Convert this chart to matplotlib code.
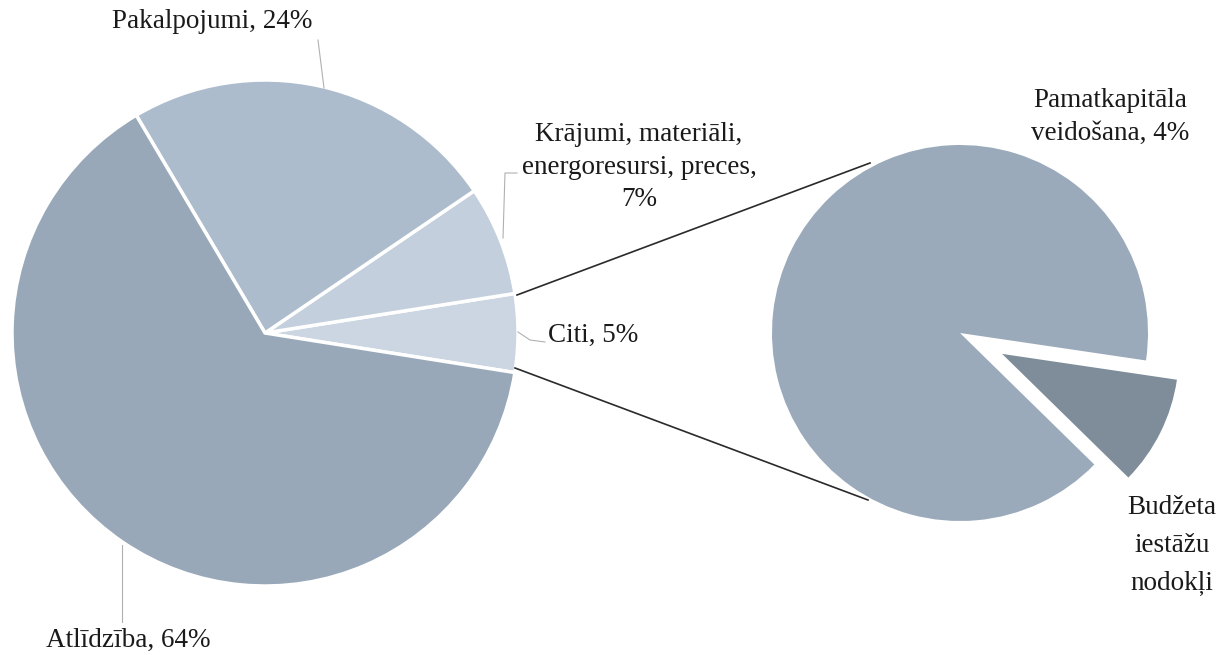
import matplotlib
matplotlib.use("Agg")
import matplotlib.pyplot as plt

# main pie (shares of total spending, %)
main_labels = ["Citi, 5%", "Krājumi, materiāli,\nenergoresursi, preces,\n7%",
               "Pakalpojumi, 24%", "Atlīdzība, 64%"]
main_values = [5, 7, 24, 64]
main_colors = ["#cbd6e2", "#c3cfdc", "#adbccc", "#98a8b9"]

# secondary pie: breakdown of "Citi"
sub_labels = ["Budžeta\niestāžu\nnodokļi", "Pamatkapitāla\nveidošana, 4%"]
sub_values = [0.5, 4.5]
sub_colors = ["#7f8d9a", "#9aaabb"]

W, H = 1217, 655


def Y(y):
    # image rows -> axis coords
    return H - y


fig = plt.figure(figsize=(W / 100, H / 100), dpi=100)
ax = fig.add_axes([0, 0, 1, 1])

ax.pie(main_values, colors=main_colors, startangle=-9, counterclock=True,
       center=(265, Y(333)), radius=253,
       wedgeprops=dict(edgecolor="white", linewidth=2.5))

# explode is in data units here, not a fraction of the radius
sub_r = 188
sub_wedges, _ = ax.pie(sub_values, colors=sub_colors, startangle=-44.4,
                       counterclock=True, center=(960, Y(333)), radius=sub_r,
                       explode=[0.25 * sub_r, 0],
                       wedgeprops=dict(edgecolor="none"))
# the pulled-out slice is drawn a bit smaller in the original
sub_wedges[0].set_radius(sub_r * 0.94)

# pie() resets the limits, so set them afterwards
ax.set_xlim(0, W)
ax.set_ylim(0, H)
ax.set_aspect("equal")
ax.axis("off")

# connector lines between the pies
ax.plot([517, 870], [Y(295), Y(163)], color="#2a2a2a", lw=1.2)
ax.plot([515, 868], [Y(368), Y(500)], color="#2a2a2a", lw=1.2)

# leader lines
lc = "#b0b0b0"
ax.plot([318, 324], [Y(40), Y(88)], color=lc, lw=0.8)
ax.plot([517, 505, 503], [Y(173), Y(173), Y(238)], color=lc, lw=0.8)
ax.plot([518, 530, 545], [Y(332), Y(340), Y(342)], color=lc, lw=0.8)
ax.plot([122, 122], [Y(545), Y(622)], color=lc, lw=0.8)

font = dict(family="Liberation Serif", fontsize=19.5, color="#1a1a1a")
ax.text(212, Y(22), main_labels[2], ha="center", va="center", **font)
ax.text(639, Y(167), main_labels[1], ha="center", va="center",
        linespacing=1.4, **font)
ax.text(548, Y(335), main_labels[0], ha="left", va="center", **font)
ax.text(128, Y(640), main_labels[3], ha="center", va="center", **font)
ax.text(1110, Y(117), sub_labels[1], ha="center", va="center",
        linespacing=1.4, **font)
ax.text(1172, Y(545), sub_labels[0], ha="center", va="center",
        linespacing=1.65, **font)

fig.savefig("out.png", dpi=100)
